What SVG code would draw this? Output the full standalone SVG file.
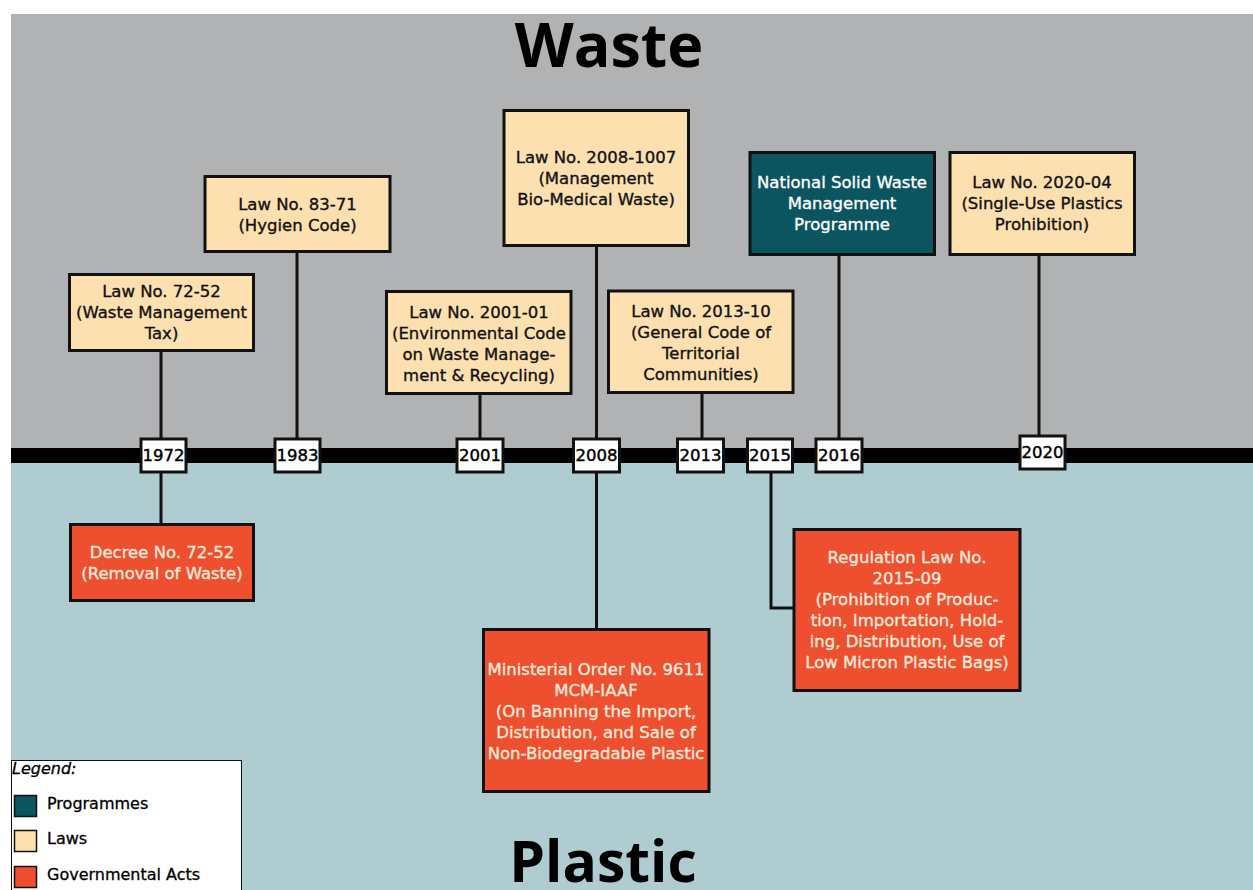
<svg xmlns="http://www.w3.org/2000/svg" width="1253" height="890" viewBox="0 0 1253 890">
  <style>
    .t { font-family: "DejaVu Sans", Verdana, sans-serif; font-size: 16.5px; text-anchor: middle; stroke-width: 0.35; }
    .law { fill: #fde0b0; stroke: #111; stroke-width: 3; }
    .prog { fill: #0b5560; stroke: #111; stroke-width: 3; }
    .act { fill: #ee4f2e; stroke: #111; stroke-width: 3; }
    .year { fill: #fff; stroke: #111; stroke-width: 3; }
    .dark { fill: #111; stroke: #111; }
    .light { fill: #fff; stroke: #fff; }
    .cream { fill: #fdeadb; stroke: #fdeadb; }
    .yt { font-family: "DejaVu Sans", Verdana, sans-serif; font-size: 16.5px; text-anchor: middle; fill: #000; stroke: #000; stroke-width: 0.45; }
    .conn { stroke: #111; stroke-width: 3; fill: none; }
    .title { font-family: "Open Sans", "DejaVu Sans", sans-serif; font-weight: bold; text-anchor: middle; fill: #000; }
    .lg { font-family: "DejaVu Sans", Verdana, sans-serif; font-size: 16px; fill: #000; stroke: #000; stroke-width: 0.3; }
    .sw { stroke: #111; stroke-width: 1.5; }
  </style>

  <!-- background bands -->
  <rect x="0" y="0" width="1253" height="890" fill="#fff"/>
  <rect x="11" y="14" width="1242" height="441" fill="#b1b2b4"/>
  <rect x="11" y="455" width="1242" height="435" fill="#afcdd0"/>

  <text class="title" x="609" y="67" font-size="61">Waste</text>
  <text class="title" x="603" y="882" font-size="57">Plastic</text>

  <!-- connectors -->
  <g id="connectors">
    <line class="conn" x1="161" y1="351" x2="161" y2="440"/>
    <line class="conn" x1="161" y1="470" x2="161" y2="524"/>
    <line class="conn" x1="297" y1="252" x2="297" y2="440"/>
    <line class="conn" x1="480" y1="394" x2="480" y2="440"/>
    <line class="conn" x1="596.5" y1="246" x2="596.5" y2="440"/>
    <line class="conn" x1="596.5" y1="470" x2="596.5" y2="629"/>
    <line class="conn" x1="702" y1="393" x2="702" y2="440"/>
    <polyline class="conn" points="771,470 771,608 793,608"/>
    <line class="conn" x1="839" y1="255" x2="839" y2="440"/>
    <line class="conn" x1="1039" y1="255" x2="1039" y2="437"/>
  </g>

  <!-- timeline bar -->
  <rect x="11" y="448" width="1242" height="15" fill="#000"/>

  <!-- year markers -->
  <g id="y1972"><rect class="year" x="141" y="439" width="45" height="33"/><text class="yt" x="163.5" y="461">1972</text></g>
  <g id="y1983"><rect class="year" x="275" y="439" width="45" height="33"/><text class="yt" x="297.5" y="461">1983</text></g>
  <g id="y2001"><rect class="year" x="457" y="439" width="46" height="33"/><text class="yt" x="480" y="461">2001</text></g>
  <g id="y2008"><rect class="year" x="573.5" y="439" width="46" height="33"/><text class="yt" x="596.5" y="461">2008</text></g>
  <g id="y2013"><rect class="year" x="677.5" y="439" width="46" height="33"/><text class="yt" x="700.5" y="461">2013</text></g>
  <g id="y2015"><rect class="year" x="747.5" y="439" width="45" height="33"/><text class="yt" x="770" y="461">2015</text></g>
  <g id="y2016"><rect class="year" x="816" y="439" width="46" height="33"/><text class="yt" x="839" y="461">2016</text></g>
  <g id="y2020"><rect class="year" x="1020" y="436" width="45" height="33"/><text class="yt" x="1042.5" y="458">2020</text></g>

  <!-- laws -->
  <g id="law-72-52">
    <rect class="law" x="69.5" y="274.5" width="184" height="76"/>
    <text class="t dark" x="161.5" y="297">Law No. 72-52</text>
    <text class="t dark" x="161.5" y="318">(Waste Management</text>
    <text class="t dark" x="161.5" y="339">Tax)</text>
  </g>
  <g id="law-83-71">
    <rect class="law" x="205" y="176.5" width="185" height="75"/>
    <text class="t dark" x="297.5" y="210">Law No. 83-71</text>
    <text class="t dark" x="297.5" y="231">(Hygien Code)</text>
  </g>
  <g id="law-2001-01">
    <rect class="law" x="386.5" y="291.5" width="184.5" height="102"/>
    <text class="t dark" x="479" y="318">Law No. 2001-01</text>
    <text class="t dark" x="479" y="339">(Environmental Code</text>
    <text class="t dark" x="479" y="360">on Waste Manage-</text>
    <text class="t dark" x="479" y="381">ment &amp; Recycling)</text>
  </g>
  <g id="law-2008-1007">
    <rect class="law" x="504" y="110.5" width="184.5" height="135"/>
    <text class="t dark" x="596" y="163">Law No. 2008-1007</text>
    <text class="t dark" x="596" y="184">(Management</text>
    <text class="t dark" x="596" y="205">Bio-Medical Waste)</text>
  </g>
  <g id="law-2013-10">
    <rect class="law" x="608.5" y="291" width="184.5" height="101.5"/>
    <text class="t dark" x="701" y="317">Law No. 2013-10</text>
    <text class="t dark" x="701" y="338">(General Code of</text>
    <text class="t dark" x="701" y="359">Territorial</text>
    <text class="t dark" x="701" y="380">Communities)</text>
  </g>
  <g id="nswmp">
    <rect class="prog" x="750" y="152.5" width="184.5" height="102"/>
    <text class="t light" x="842" y="188">National Solid Waste</text>
    <text class="t light" x="842" y="209">Management</text>
    <text class="t light" x="842" y="230">Programme</text>
  </g>
  <g id="law-2020-04">
    <rect class="law" x="950" y="152.5" width="184.5" height="102"/>
    <text class="t dark" x="1042" y="188">Law No. 2020-04</text>
    <text class="t dark" x="1042" y="209">(Single-Use Plastics</text>
    <text class="t dark" x="1042" y="230">Prohibition)</text>
  </g>

  <!-- governmental acts -->
  <g id="decree-72-52">
    <rect class="act" x="70.5" y="524.5" width="183" height="76"/>
    <text class="t cream" x="162" y="558">Decree No. 72-52</text>
    <text class="t cream" x="162" y="579">(Removal of Waste)</text>
  </g>
  <g id="order-9611">
    <rect class="act" x="483.5" y="629.5" width="225.5" height="162"/>
    <text class="t cream" x="596" y="675">Ministerial Order No. 9611</text>
    <text class="t cream" x="596" y="696">MCM-IAAF</text>
    <text class="t cream" x="596" y="717">(On Banning the Import,</text>
    <text class="t cream" x="596" y="738">Distribution, and Sale of</text>
    <text class="t cream" x="596" y="759">Non-Biodegradable Plastic</text>
  </g>
  <g id="regulation-2015-09">
    <rect class="act" x="794" y="529.5" width="226" height="161"/>
    <text class="t cream" x="907" y="563">Regulation Law No.</text>
    <text class="t cream" x="907" y="584">2015-09</text>
    <text class="t cream" x="907" y="605">(Prohibition of Produc-</text>
    <text class="t cream" x="907" y="626">tion, Importation, Hold-</text>
    <text class="t cream" x="907" y="647">ing, Distribution, Use of</text>
    <text class="t cream" x="907" y="668">Low Micron Plastic Bags)</text>
  </g>

  <!-- legend -->
  <g id="legend">
    <rect x="11.5" y="760.5" width="230" height="140" fill="#fff" stroke="#111" stroke-width="1"/>
    <text class="lg" x="12" y="774" font-style="italic">Legend:</text>
    <rect class="sw" x="14.5" y="795.5" width="22" height="21" fill="#0b5560"/>
    <text class="lg" x="47" y="809">Programmes</text>
    <rect class="sw" x="14.5" y="830.5" width="22" height="21" fill="#fde0b0"/>
    <text class="lg" x="47" y="844">Laws</text>
    <rect class="sw" x="14.5" y="866.5" width="22" height="21" fill="#ee4f2e"/>
    <text class="lg" x="47" y="880">Governmental Acts</text>
  </g>
</svg>
